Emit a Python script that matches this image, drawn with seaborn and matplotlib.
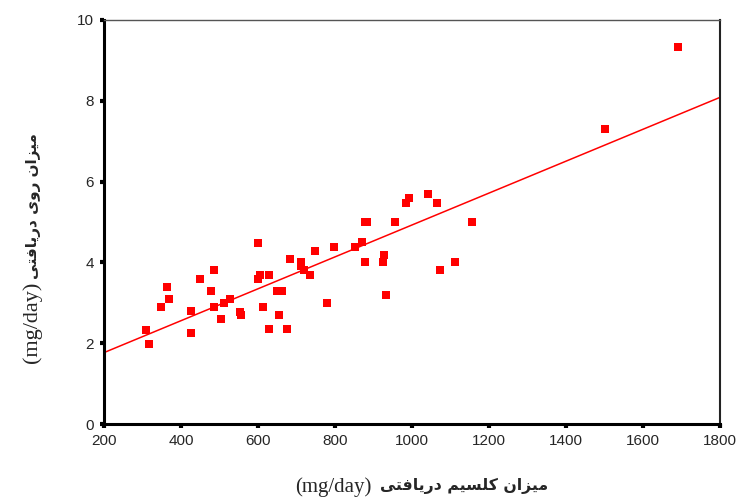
import matplotlib
matplotlib.use("Agg")
import matplotlib.pyplot as plt
import numpy as np
import pandas as pd
import seaborn as sns

# calcium intake (mg/day) vs zinc intake (mg/day)
calcium = [310, 316, 348, 364, 368, 426, 426, 450, 479, 486, 486, 503, 511, 528,
           552, 557, 601, 601, 605, 613, 629, 629, 649, 663, 655, 675, 683, 711,
           711, 719, 736, 748, 780, 797, 853, 871, 877, 884, 878, 927, 924, 932,
           955, 985, 993, 1042, 1066, 1074, 1111, 1157, 1502, 1691]
zinc = [2.33, 1.97, 2.9, 3.4, 3.09, 2.8, 2.26, 3.6, 3.29, 3.8, 2.9, 2.6, 3.0, 3.09,
        2.76, 2.7, 4.49, 3.6, 3.7, 2.9, 3.7, 2.36, 3.29, 3.29, 2.7, 2.36, 4.09, 4.0,
        3.9, 3.8, 3.7, 4.29, 3.0, 4.39, 4.39, 4.5, 5.0, 5.0, 4.0, 4.19, 4.0, 3.2,
        5.0, 5.48, 5.6, 5.7, 5.48, 3.8, 4.0, 5.0, 7.3, 9.33]

x_ticks = [200, 400, 600, 800, 1000, 1200, 1400, 1600, 1800]
y_ticks = [0, 2, 4, 6, 8, 10]

x_label = "میزان کلسیم دریافتی"
y_label = "میزان روی دریافتی"
unit = "(mg/day)"

# contextual forms: isolated, final, initial, medial
FORMS = {
    "م": "\uFEE1\uFEE2\uFEE3\uFEE4", "ی": "\uFBFC\uFBFD\uFBFE\uFBFF",
    "ز": "\uFEAF\uFEB0", "ا": "\uFE8D\uFE8E", "ن": "\uFEE5\uFEE6\uFEE7\uFEE8",
    "ک": "\uFB8E\uFB8F\uFB90\uFB91", "ل": "\uFEDD\uFEDE\uFEDF\uFEE0",
    "س": "\uFEB1\uFEB2\uFEB3\uFEB4", "د": "\uFEA9\uFEAA", "ر": "\uFEAD\uFEAE",
    "ف": "\uFED1\uFED2\uFED3\uFED4", "ت": "\uFE95\uFE96\uFE97\uFE98",
    "و": "\uFEED\uFEEE",
}


def shape_persian(text):
    # matplotlib has no bidi/shaping, so pick joined forms and reverse
    out = []
    for word in text.split(" "):
        shaped = []
        for i, ch in enumerate(word):
            f = FORMS[ch]
            prev_joins = i > 0 and len(FORMS[word[i - 1]]) == 4
            next_joins = i < len(word) - 1 and len(f) == 4
            if prev_joins and next_joins:
                shaped.append(f[3])
            elif prev_joins:
                shaped.append(f[1])
            elif next_joins:
                shaped.append(f[2])
            else:
                shaped.append(f[0])
        out.append("".join(reversed(shaped)))
    return " ".join(reversed(out))


df = pd.DataFrame({"calcium": calcium, "zinc": zinc})

sns.set_style("white")
plt.rcParams["font.family"] = ["Liberation Sans", "DejaVu Sans"]

fig = plt.figure(figsize=(7.4, 5), dpi=100)
ax = fig.add_axes([0.1405, 0.152, 0.8325, 0.808])
ax.set_xlim(200, 1800)
ax.set_ylim(0, 10)

sns.regplot(data=df, x="calcium", y="zinc", ax=ax, ci=None, truncate=False,
            marker="s", color="#ff0000",
            scatter_kws={"s": 34, "linewidths": 0, "alpha": 1},
            line_kws={"linewidth": 1.1})

ax.set_xlim(200, 1800)
ax.set_ylim(0, 10)
ax.set_xticks(x_ticks)
ax.set_yticks(y_ticks)
ax.set_xlabel("")
ax.set_ylabel("")
ax.tick_params(axis="both", direction="out", length=3, width=3, color="black",
               labelsize=11, pad=4, bottom=True, left=True)

for side in ["left", "bottom"]:
    ax.spines[side].set_color("black")
    ax.spines[side].set_linewidth(2.2)
ax.spines["top"].set_color("#555555")
ax.spines["top"].set_linewidth(1)
ax.spines["right"].set_color("#222222")
ax.spines["right"].set_linewidth(1.5)

# axis titles: serif unit + bold persian text next to it
serif = ["Liberation Serif", "DejaVu Serif"]
fa = ["DejaVu Sans"]

xu = fig.text(295 / 740, 0.026, unit, ha="left", va="center",
              fontsize=15, family=serif)
ax.annotate(shape_persian(x_label), xy=(1, 0.5), xycoords=xu,
            xytext=(6, 1), textcoords="offset points", ha="left", va="center",
            fontsize=11.3, fontweight="bold", family=fa)

yu = fig.text(32 / 740, 1 - 363 / 500, unit, ha="center", va="bottom",
              rotation=90, fontsize=16, family=serif)
ax.annotate(shape_persian(y_label), xy=(0.5, 1), xycoords=yu,
            xytext=(1, 2), textcoords="offset points", ha="center",
            va="bottom", rotation=90, fontsize=11, fontweight="bold",
            family=fa)

fig.savefig("out.png", dpi=100)
